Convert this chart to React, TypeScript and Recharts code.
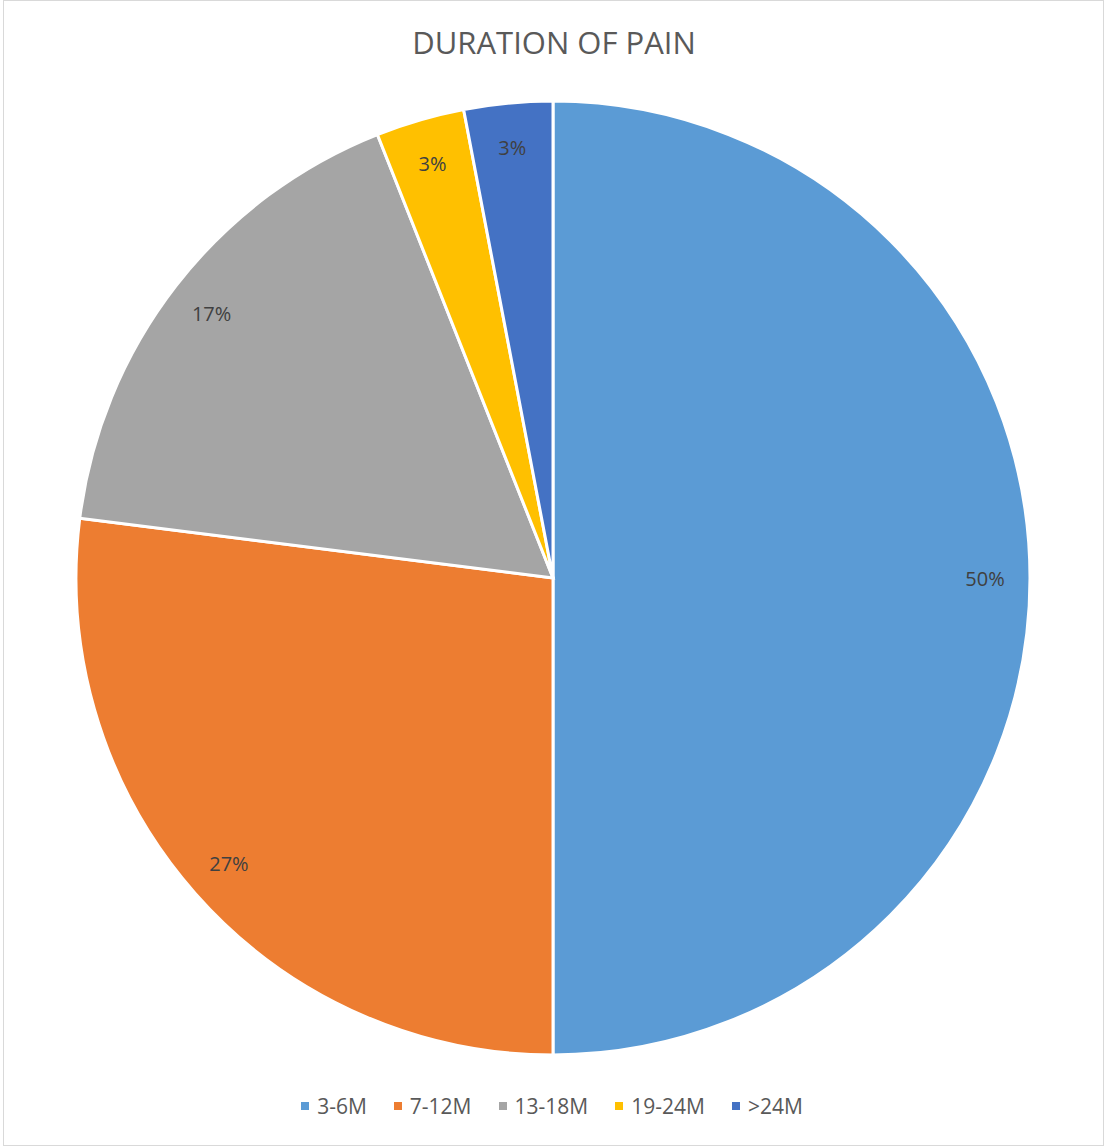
import React from "react";
import { PieChart, Pie, Cell, Legend } from "recharts";

const categories = ["3-6M", "7-12M", "13-18M", "19-24M", ">24M"];
const shares = [50, 27, 17, 3, 3];
const colors = ["#5B9BD5", "#ED7D31", "#A5A5A5", "#FFC000", "#4472C4"];

const data = categories.map((name, i) => ({ name, value: shares[i] }));

const FONT = "'Open Sans', 'Noto Sans', sans-serif";
const RAD = Math.PI / 180;

function renderLabel(props: any) {
  const { cx, cy, midAngle, outerRadius, percent } = props;
  const r = outerRadius - 45;
  const x = cx + r * Math.cos(-midAngle * RAD);
  const y = cy + r * Math.sin(-midAngle * RAD);
  return (
    <text
      x={x}
      y={y}
      fill="#404040"
      fontSize={20}
      fontFamily={FONT}
      textAnchor="middle"
      dominantBaseline="central"
    >
      {`${Math.round(percent * 100)}%`}
    </text>
  );
}

function renderLegend() {
  return (
    <div style={{ display: "flex", justifyContent: "center", alignItems: "center" }}>
      {categories.map((c, i) => (
        <div key={c} style={{ display: "flex", alignItems: "center", marginRight: i < categories.length - 1 ? 27 : 0 }}>
          <span style={{ width: 8, height: 8, background: colors[i], marginRight: 8, display: "inline-block" }} />
          <span style={{ fontFamily: FONT, fontSize: 21, color: "#595959" }}>{c}</span>
        </div>
      ))}
    </div>
  );
}

export default function App() {
  return (
    <div
      style={{
        position: "absolute",
        top: 0,
        left: 0,
        width: 1104,
        height: 1147,
        background: "#fff",
      }}
    >
      <div
        style={{
          position: "absolute",
          left: 3,
          top: 0,
          width: 1099,
          height: 1144,
          border: "1px solid #D9D9D9",
          boxSizing: "content-box",
        }}
      />
      <div
        style={{
          position: "absolute",
          top: 21,
          left: 0,
          width: 1108,
          textAlign: "center",
          fontFamily: FONT,
          fontSize: 31,
          color: "#595959",
        }}
      >
        DURATION OF PAIN
      </div>
      <div style={{ position: "absolute", top: 0, left: 0 }}>
        <PieChart width={1104} height={1147} margin={{ top: 0, right: 0, bottom: 0, left: 0 }}>
          <Pie
            data={data}
            dataKey="value"
            nameKey="name"
            cx={553}
            cy={578}
            outerRadius={477}
            startAngle={90}
            endAngle={-270}
            stroke="#FFFFFF"
            strokeWidth={3}
            label={renderLabel}
            labelLine={false}
            isAnimationActive={false}
          >
            {data.map((d, i) => (
              <Cell key={d.name} fill={colors[i]} />
            ))}
          </Pie>
          <Legend
            content={renderLegend}
            wrapperStyle={{ position: "absolute", top: 1092, left: 0, width: 1104 }}
          />
        </PieChart>
      </div>
    </div>
  );
}
